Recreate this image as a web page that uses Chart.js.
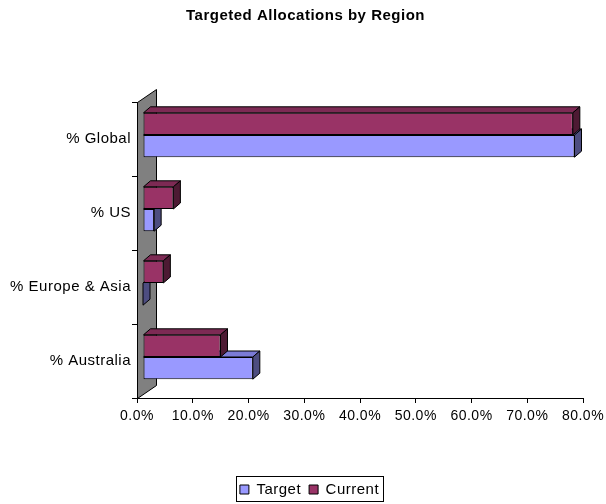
<!DOCTYPE html>
<html><head><meta charset="utf-8">
<script src="https://cdn.jsdelivr.net/npm/chart.js@4.4.0/dist/chart.umd.min.js"></script>
<style>html,body{margin:0;padding:0;background:#fff}</style>
</head><body>
<canvas id="c" width="606" height="504"></canvas>
<script>
const titleText = 'Targeted Allocations by Region';
const categories = ['% Global', '% US', '% Europe & Asia', '% Australia'];
const seriesNames = ['Target', 'Current'];
const targetValues = [77.4, 2.0, 0, 19.7];
const currentValues = [77.1, 5.45, 3.65, 13.9];
const xTickValues = [0, 10, 20, 30, 40, 50, 60, 70, 80];

const FONT = "'Liberation Sans', Arial, sans-serif";
const DEPTH_X = 7, DEPTH_Y = 6;      // bar 3D depth
const SHIFT_X = 6, SHIFT_Y = -4;     // bars sit a bit behind the front plane
const WALL_X = 19, WALL_Y = 13;

const faceColors = {
  Target: {front: '#9999FF', top: '#7b7bd6', side: '#4d4d80'},
  Current: {front: '#993366', top: '#7d2a54', side: '#4d1a33'}
};

function poly(ctx, pts, fill) {
  ctx.beginPath();
  ctx.moveTo(pts[0][0], pts[0][1]);
  for (let i = 1; i < pts.length; i++) ctx.lineTo(pts[i][0], pts[i][1]);
  ctx.closePath();
  ctx.fillStyle = fill;
  ctx.fill();
  ctx.strokeStyle = '#000';
  ctx.lineWidth = 1;
  ctx.stroke();
}

const threeD = {
  id: 'threeD',
  beforeUpdate(chart) {
    chart.ctx.letterSpacing = '0.5px';
  },
  afterLayout(chart) {
    const lg = chart.legend;
    const dx = 18, dy = 3;
    lg.left += dx; lg.right += dx; lg.top += dy; lg.bottom += dy;
    const tb = chart.titleBlock;
    tb.left += 14; tb.right += 14;
  },
  beforeDatasetsDraw(chart) {
    const ctx = chart.ctx, a = chart.chartArea;
    const L = a.left + 0.5, T = a.top + 0.5, B = a.bottom + 0.5;
    poly(ctx, [[L, T], [L + WALL_X, T - WALL_Y], [L + WALL_X, B - WALL_Y], [L, B]], '#808080');
    ctx.save();
    ctx.translate(SHIFT_X, SHIFT_Y);
  },
  afterDatasetDraw(chart, args) {
    const ctx = chart.ctx;
    const name = chart.data.datasets[args.index].label;
    const c = faceColors[name];
    args.meta.data.forEach(el => {
      const p = el.getProps(['x', 'y', 'base', 'height'], true);
      const left = Math.min(p.x, p.base), right = Math.max(p.x, p.base);
      const top = p.y - p.height / 2, bottom = p.y + p.height / 2;
      poly(ctx, [[left, top], [left + DEPTH_X, top - DEPTH_Y], [right + DEPTH_X, top - DEPTH_Y], [right, top]], c.top);
      poly(ctx, [[right, top], [right + DEPTH_X, top - DEPTH_Y], [right + DEPTH_X, bottom - DEPTH_Y], [right, bottom]], c.side);
    });
  },
  afterDatasetsDraw(chart) {
    chart.ctx.restore();
  },
  afterDraw(chart) {
    const lg = chart.legend, hb = lg.legendHitBoxes;
    if (!hb || !hb.length) return;
    const ctx = chart.ctx;
    let l = Infinity, r = -Infinity, t = Infinity, b = -Infinity;
    hb.forEach(h => { l = Math.min(l, h.left); r = Math.max(r, h.left + h.width); t = Math.min(t, h.top); b = Math.max(b, h.top + h.height); });
    ctx.save();
    ctx.strokeStyle = '#000';
    ctx.lineWidth = 1;
    ctx.strokeRect(Math.round(l - 4) + 0.5, Math.round(t - 6) + 0.5, Math.round(r - l + 8), Math.round(b - t + 10));
    ctx.restore();
  }
};

new Chart(document.getElementById('c'), {
  type: 'bar',
  data: {
    labels: categories,
    datasets: [
      {label: seriesNames[1], data: currentValues, backgroundColor: faceColors.Current.front, borderColor: '#000', borderWidth: 1, borderSkipped: false, clip: false},
      {label: seriesNames[0], data: targetValues, backgroundColor: faceColors.Target.front, borderColor: '#000', borderWidth: 1, borderSkipped: false, clip: false}
    ]
  },
  options: {
    indexAxis: 'y',
    responsive: false,
    animation: false,
    devicePixelRatio: 1,
    categoryPercentage: 0.6,
    barPercentage: 1.0,
    layout: {padding: {left: 0, right: 23, top: 0, bottom: 0}},
    plugins: {
      title: {display: true, text: titleText, color: '#000', font: {family: FONT, size: 15, weight: 'bold'}, padding: {top: 7, bottom: 77}},
      legend: {
        position: 'bottom', reverse: true,
        labels: {color: '#000', font: {family: FONT, size: 15}, boxWidth: 9, boxHeight: 9, padding: 8}
      },
      tooltip: {enabled: false}
    },
    scales: {
      x: {
        type: 'linear', min: 0, max: 80,
        afterBuildTicks: s => { s.ticks = xTickValues.map(v => ({value: v})); },
        afterFit: s => { s.height = 73; s.paddingLeft = 0; s.paddingRight = 0; },
        ticks: {color: '#000', font: {family: FONT, size: 14}, padding: 5, maxRotation: 0, callback: v => v.toFixed(1) + '%'},
        grid: {drawOnChartArea: false, drawTicks: true, tickLength: 5, color: '#000'},
        border: {display: true, color: '#000', width: 1}
      },
      y: {
        type: 'category',
        afterFit: s => { s.width = 137; s.paddingTop = 0; s.paddingBottom = 0; },
        ticks: {color: '#000', font: {family: FONT, size: 15}, padding: 1},
        grid: {offset: true, drawOnChartArea: false, drawTicks: true, tickLength: 5, color: '#000'},
        border: {display: true, color: '#000', width: 1}
      }
    }
  },
  plugins: [threeD]
});
</script>
</body></html>
